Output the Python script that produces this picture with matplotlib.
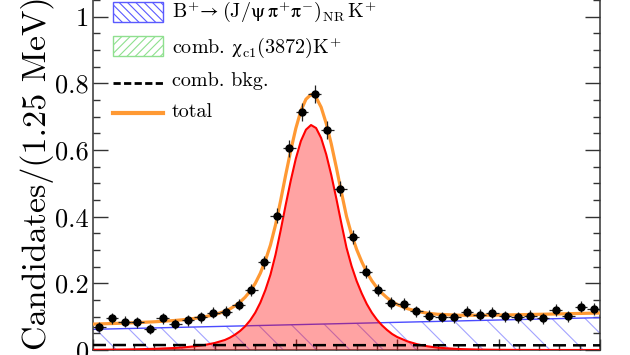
"""Invariant-mass fit of the chi_c1(3872) peak (LHCb-style, cropped view)."""

import matplotlib
matplotlib.use("Agg")
import matplotlib.pyplot as plt
import numpy as np
from matplotlib.lines import Line2D
from matplotlib.patches import Rectangle
from matplotlib.ticker import FuncFormatter, MultipleLocator

plt.rcParams["font.family"] = ["cmr10", "DejaVu Serif"]
plt.rcParams["mathtext.fontset"] = "custom"
plt.rcParams["mathtext.rm"] = "cmr10"
plt.rcParams["mathtext.it"] = "cmmi10"
plt.rcParams["mathtext.bf"] = "cmb10"
plt.rcParams["mathtext.fallback"] = "stix"
plt.rcParams["hatch.linewidth"] = 0.8

# --- data -------------------------------------------------------------------
mass_lo, mass_hi = 3850.0, 3900.0
bin_width = 1.25
counts = [0.069, 0.095, 0.085, 0.083, 0.063, 0.095, 0.078, 0.089, 0.098, 0.112,
          0.114, 0.136, 0.180, 0.263, 0.403, 0.605, 0.714, 0.768, 0.660, 0.484,
          0.340, 0.235, 0.180, 0.141, 0.138, 0.116, 0.103, 0.099, 0.098, 0.115,
          0.106, 0.112, 0.101, 0.098, 0.103, 0.095, 0.120, 0.101, 0.130, 0.123]
errors = [0.015, 0.016, 0.016, 0.016, 0.015, 0.016, 0.016, 0.016, 0.016, 0.017,
          0.017, 0.017, 0.018, 0.019, 0.022, 0.025, 0.027, 0.028, 0.026, 0.023,
          0.021, 0.019, 0.018, 0.017, 0.017, 0.017, 0.016, 0.016, 0.016, 0.017,
          0.016, 0.017, 0.016, 0.016, 0.016, 0.016, 0.017, 0.016, 0.017, 0.017]

# signal component of the fit, sampled along the curve
sig_mass = [3850, 3852, 3854, 3856, 3858, 3859, 3860, 3861, 3862, 3863,
            3863.5, 3864, 3864.5, 3865, 3865.5, 3866, 3866.5, 3867, 3867.5, 3868,
            3868.5, 3869, 3869.5, 3870, 3870.5, 3871, 3871.5, 3872, 3872.5, 3873,
            3873.5, 3874, 3874.5, 3875, 3875.5, 3876, 3876.5, 3877, 3877.5, 3878,
            3878.5, 3879, 3879.5, 3880, 3881, 3882, 3883, 3884, 3886, 3888,
            3890, 3892, 3895, 3900]
sig_vals = [0.0007, 0.0012, 0.002, 0.0035, 0.006, 0.008, 0.011, 0.015, 0.021, 0.030,
            0.037, 0.046, 0.057, 0.071, 0.089, 0.112, 0.142, 0.180, 0.226, 0.286,
            0.358, 0.435, 0.508, 0.574, 0.627, 0.661, 0.675, 0.666, 0.636, 0.587,
            0.525, 0.454, 0.379, 0.307, 0.252, 0.207, 0.170, 0.138, 0.112, 0.091,
            0.074, 0.060, 0.048, 0.039, 0.026, 0.017, 0.011, 0.007, 0.003, 0.0013,
            0.0006, 0.0003, 0.0001, 0.0]

# linear backgrounds: values at the two ends of the range
nr_ends = [0.062, 0.097]      # B+ -> (J/psi pi pi)_NR K+
comb_ends = [0.015, 0.014]    # combinatorial

labels = [
    r"$\mathrm{B}^{+}\!\rightarrow(\mathrm{J/\psi}\,\mathrm{\pi}^{+}\mathrm{\pi}^{-})_{\mathrm{NR}}\,\mathrm{K}^{+}$",
    r"comb. $\mathrm{\chi}_{\mathrm{c1}}(3872)\mathrm{K}^{+}$",
    "comb. bkg.",
    "total",
]
ylabel = "Candidates/(1.25 MeV)"

# --- derived -----------------------------------------------------------------
centers = mass_lo + bin_width * (np.arange(len(counts)) + 0.5)
m = np.array(sig_mass, dtype=float)
sig = np.array(sig_vals)
nr = np.interp(m, [mass_lo, mass_hi], nr_ends)
comb = np.interp(m, [mass_lo, mass_hi], comb_ends)
total = sig + nr + comb

# --- figure (axes extend past the top of the canvas, as in the crop) --------
W, H = 630, 355
fig = plt.figure(figsize=(W / 100, H / 100), dpi=100)
ymax = 1.1
px_per_unit = 333.3
ax = fig.add_axes([93 / W, 5 / H, 507 / W, ymax * px_per_unit / H])
ax.set_xlim(mass_lo, mass_hi)
ax.set_ylim(0, ymax)

blue = "#4b4bff"
ax.fill_between(m, 0, nr, facecolor="none", edgecolor="#a3a3ff",
                hatch="\\", linewidth=0, zorder=1)
ax.plot(m, nr, color=blue, lw=1.0, zorder=2)
ax.fill_between(m, 0, sig, facecolor=(1, 0, 0, 0.36), linewidth=0, zorder=3)
ax.plot(m, sig, color="#ff0000", lw=1.5, zorder=4)
ax.plot(m, comb, color="black", lw=1.8, dashes=(5.2, 2.8), zorder=5)
ax.plot(m, total, color="#ff9933", lw=2.3, zorder=6)
ax.errorbar(centers, counts, yerr=errors, xerr=bin_width / 2, fmt="o",
            color="black", ecolor="#222222", ms=5, elinewidth=0.9,
            capsize=0, zorder=7)

# axes styling
for side in ("left", "right", "bottom", "top"):
    ax.spines[side].set_color("#333333")
    ax.spines[side].set_linewidth(1.1)
ax.yaxis.set_major_locator(MultipleLocator(0.2))
ax.yaxis.set_minor_locator(MultipleLocator(0.05))
ax.xaxis.set_major_locator(MultipleLocator(10))
ax.xaxis.set_minor_locator(MultipleLocator(2))
ax.yaxis.set_major_formatter(FuncFormatter(lambda v, _: f"{v:g}"))
ax.tick_params(axis="y", which="major", direction="in", length=10.8, width=1,
               color="#333333", left=True, right=True, labelsize=19, pad=3)
ax.tick_params(axis="y", which="minor", direction="in", length=5.3, width=1,
               color="#333333", left=True, right=True)
ax.tick_params(axis="x", which="major", direction="in", length=8, width=1,
               color="#333333", bottom=True, top=True, labelbottom=False)
ax.tick_params(axis="x", which="minor", direction="in", length=3.6, width=1,
               color="#333333", bottom=True, top=True)

fig.text(46 / W, 5 / H, ylabel, rotation=90, rotation_mode="anchor",
         ha="left", va="baseline", fontsize=24.5)


# --- legend, laid out by hand (pixel positions measured from the top) --------
def fx(px):
    return px / W


def fy(py):
    return 1 - py / H


key_x0, key_x1, text_x = 113.3, 163.3, 171.7
leg_fs = 14.5

fig.add_artist(Rectangle((fx(key_x0), fy(21.7)), fx(key_x1 - key_x0), 20 / H,
                         transform=fig.transFigure, facecolor="white",
                         edgecolor="#5a5aff", hatch="\\\\\\\\", lw=1))
fig.add_artist(Rectangle((fx(key_x0), fy(56)), fx(key_x1 - key_x0), 20 / H,
                         transform=fig.transFigure, facecolor="white",
                         edgecolor="#8fe08f", hatch="////", lw=1))
fig.add_artist(Line2D([fx(key_x0), fx(key_x1)], [fy(82.7), fy(82.7)],
                      transform=fig.transFigure, color="black", lw=2,
                      dashes=(2.6, 1.2)))
fig.add_artist(Line2D([fx(key_x0), fx(key_x1)], [fy(112.7), fy(112.7)],
                      transform=fig.transFigure, color="#ff9933", lw=3))
for label, base in zip(labels, [17.3, 53.3, 86.0, 116.7]):
    fig.text(fx(text_x), fy(base), label, ha="left", va="baseline",
             fontsize=leg_fs)

fig.savefig("out.png", dpi=100)
